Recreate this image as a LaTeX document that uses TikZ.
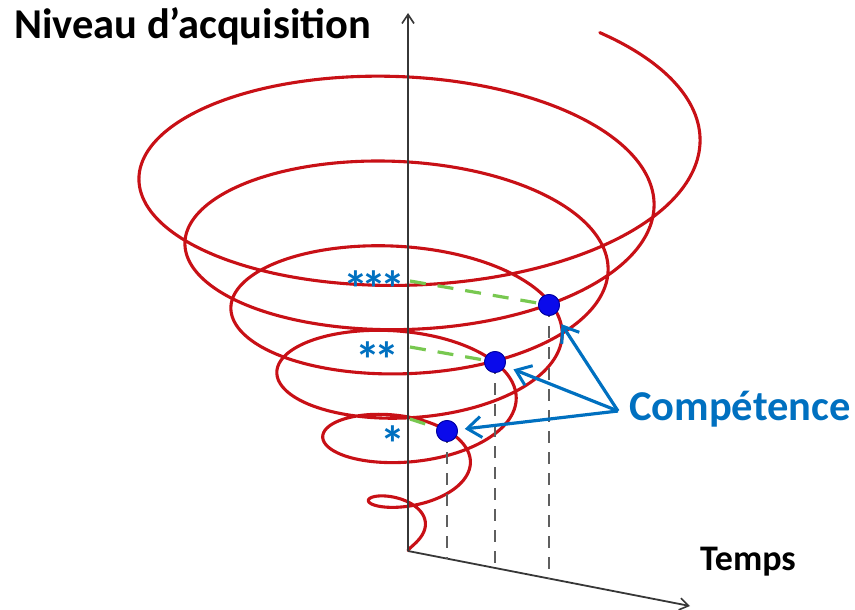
\documentclass[tikz,border=0pt]{standalone}
\usepackage{fontspec}
\setmainfont{Carlito}
\usetikzlibrary{arrows.meta,calc}
\definecolor{spiralred}{RGB}{200,16,22}
\definecolor{compblue}{RGB}{0,112,192}
\definecolor{dotblue}{RGB}{10,10,235}
\definecolor{dotedge}{RGB}{0,0,160}
\definecolor{dashgreen}{RGB}{120,200,80}
\definecolor{axisgray}{RGB}{55,55,55}
\definecolor{guidegray}{RGB}{95,95,95}
\tikzset{
  spiralline/.style={draw=spiralred, line width=3.1pt, line cap=round, line join=round},
  axisline/.style={draw=axisgray, line width=1.8pt, -{Straight Barb[length=9pt,width=12pt,line width=1.6pt]}},
  dropline/.style={draw=guidegray, line width=1.6pt, dash pattern=on 12pt off 9pt},
  greendash/.style={draw=dashgreen, line width=3.2pt, dash pattern=on 16pt off 12pt},
  comparrow/.style={draw=compblue, line width=3.2pt, -{Straight Barb[length=14pt,width=21pt,line width=3pt]}},
  dotnode/.style={circle, fill=dotblue, draw=dotedge, line width=0.8pt, minimum size=21pt, inner sep=0pt},
  bigtext/.style={font=\fontsize{42.5}{50}\selectfont\bfseries, inner sep=0pt},
  startext/.style={font=\fontsize{50}{56}\selectfont\bfseries, text=compblue, inner sep=0pt}
}
\newcommand{\stk}{\kern-6pt}
\begin{document}
\begin{tikzpicture}[x=1pt,y=-1pt]
\useasboundingbox (0,0) rectangle (855,610);
% spiral
\draw[spiralline] plot[domain=-1.25:5.14, samples=600, smooth, variable=\t]
  ({408+(62+46*\t)*cos(360*\t)}, {466.7-64.6*\t-(28.5+20.4*\t)*sin(360*\t)});
% axes
\coordinate (O) at (408,551);
\coordinate (Ytop) at (408,13);
\coordinate (Tend) at (690,606);
\draw[axisline] (O) -- (Ytop);
\draw[axisline] (O) -- (Tend);
% points on time axis
\coordinate (t1) at (447,558.6);
\coordinate (t2) at (495,568.0);
\coordinate (t3) at (549,578.5);
% level points on vertical axis
\coordinate (a1) at (410,419);
\coordinate (a2) at (410,347);
\coordinate (a3) at (410,281);
% dots
\node[dotnode] (d1) at (447,431) {};
\node[dotnode] (d2) at (495,362) {};
\node[dotnode] (d3) at (549,305) {};
\draw[dropline] (d1.center) -- (t1);
\draw[dropline] (d2.center) -- (t2);
\draw[dropline] (d3.center) -- (t3);
\draw[greendash] (a1) -- (d1);
\draw[greendash] (a2) -- (d2);
\draw[greendash] (a3) -- (d3);
\node[dotnode] at (d1) {};
\node[dotnode] at (d2) {};
\node[dotnode] at (d3) {};
% labels
\node[bigtext, anchor=base west] (ylab) at (14,39) {Niveau d’acquisition};
\node[bigtext, anchor=base west, text=compblue] (comp) at (629,420) {Compétence};
\node[bigtext, anchor=base west, font=\fontsize{36}{42}\selectfont\bfseries] (xlab) at (700,570) {Temps};
\node[startext, anchor=base east] (s3) at (406,306) {*\stk*\stk*};
\node[startext, anchor=base east] (s2) at (400,377) {*\stk*};
\node[startext, anchor=base east] (s1) at (406,461) {*};
% arrows
\coordinate (cv) at (618,411);
\draw[comparrow, shorten >=12pt] (cv) -- (d3);
\draw[comparrow, shorten >=9pt] (cv) -- (d2);
\draw[comparrow, shorten >=7pt] (cv) -- (d1);
\end{tikzpicture}
\end{document}
